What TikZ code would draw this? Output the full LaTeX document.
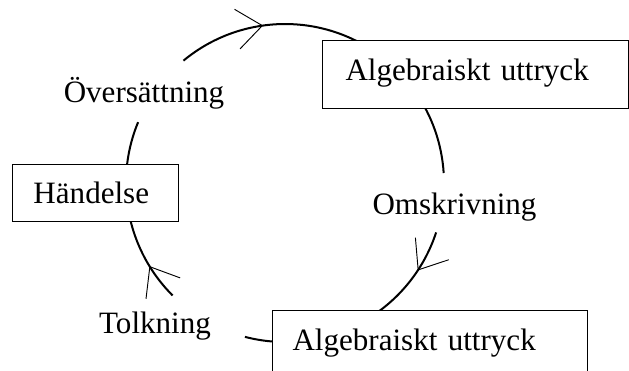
\documentclass[tikz,border=0pt]{standalone}
\usepackage{fontspec}
\setmainfont{Liberation Serif}
\usetikzlibrary{arrows.meta,decorations.markings}
\begin{document}
\begin{tikzpicture}[x=0.75pt,y=-0.75pt,
  every node/.style={font=\fontsize{23.3pt}{28pt}\selectfont},
  box/.style={draw, line width=0.75pt, fill=white, inner ysep=0pt, align=left, anchor=north west},
  lbl/.style={inner sep=0pt, anchor=base},
  cyc/.style={line width=1.5pt},
  tip/.style={postaction={decorate}, decoration={markings, mark=at position #1 with {\arrow{Straight Barb[length=19pt,width=30pt,line width=0.7pt]}}}}
]
\clip (0,0) rectangle (629,371);
\coordinate (c) at (285,183);
\def\R{119.25pt}
\path (c) ++(129.7:\R) coordinate (a1);
\path (c) ++(35:\R) coordinate (a2);
\path (c) ++(341.9:\R) coordinate (a3);
\path (c) ++(255.4:\R) coordinate (a4);
\path (c) ++(225:\R) coordinate (a5);
\path (c) ++(180:\R) coordinate (a6);
% cycle arcs
\draw[cyc, tip=0.456] (a1) arc[start angle=129.7, end angle=60, radius=\R];
\draw[cyc] (a2) arc[start angle=35, end angle=3.6, radius=\R];
\draw[cyc, tip=0.365] (a3) arc[start angle=341.9, end angle=300, radius=\R];
\draw[cyc] (a4) arc[start angle=255.4, end angle=275, radius=\R];
\draw[cyc, tip=0.3375] (a5) arc[start angle=225, end angle=185, radius=\R];
\draw[cyc] (a6) arc[start angle=180, end angle=157.5, radius=\R];
% boxes
\node[box, inner xsep=17.25pt, text width=195pt, text height=30pt, text depth=21pt] (alg1) at (322,40) {Algebraiskt uttryck};
\node[box, inner xsep=15pt, text width=206.25pt, text height=30pt, text depth=30pt] (alg2) at (272,310) {Algebraiskt uttryck};
\node[box, inner xsep=15.75pt, text width=93pt, text height=29.25pt, text depth=13.5pt] (hand) at (12,164) {Händelse};
% labels
\node[lbl] (ov) at (144,102) {Översättning};
\node[lbl] (om) at (454.5,214) {Omskrivning};
\node[lbl] (to) at (155,333) {Tolkning};
\end{tikzpicture}
\end{document}
